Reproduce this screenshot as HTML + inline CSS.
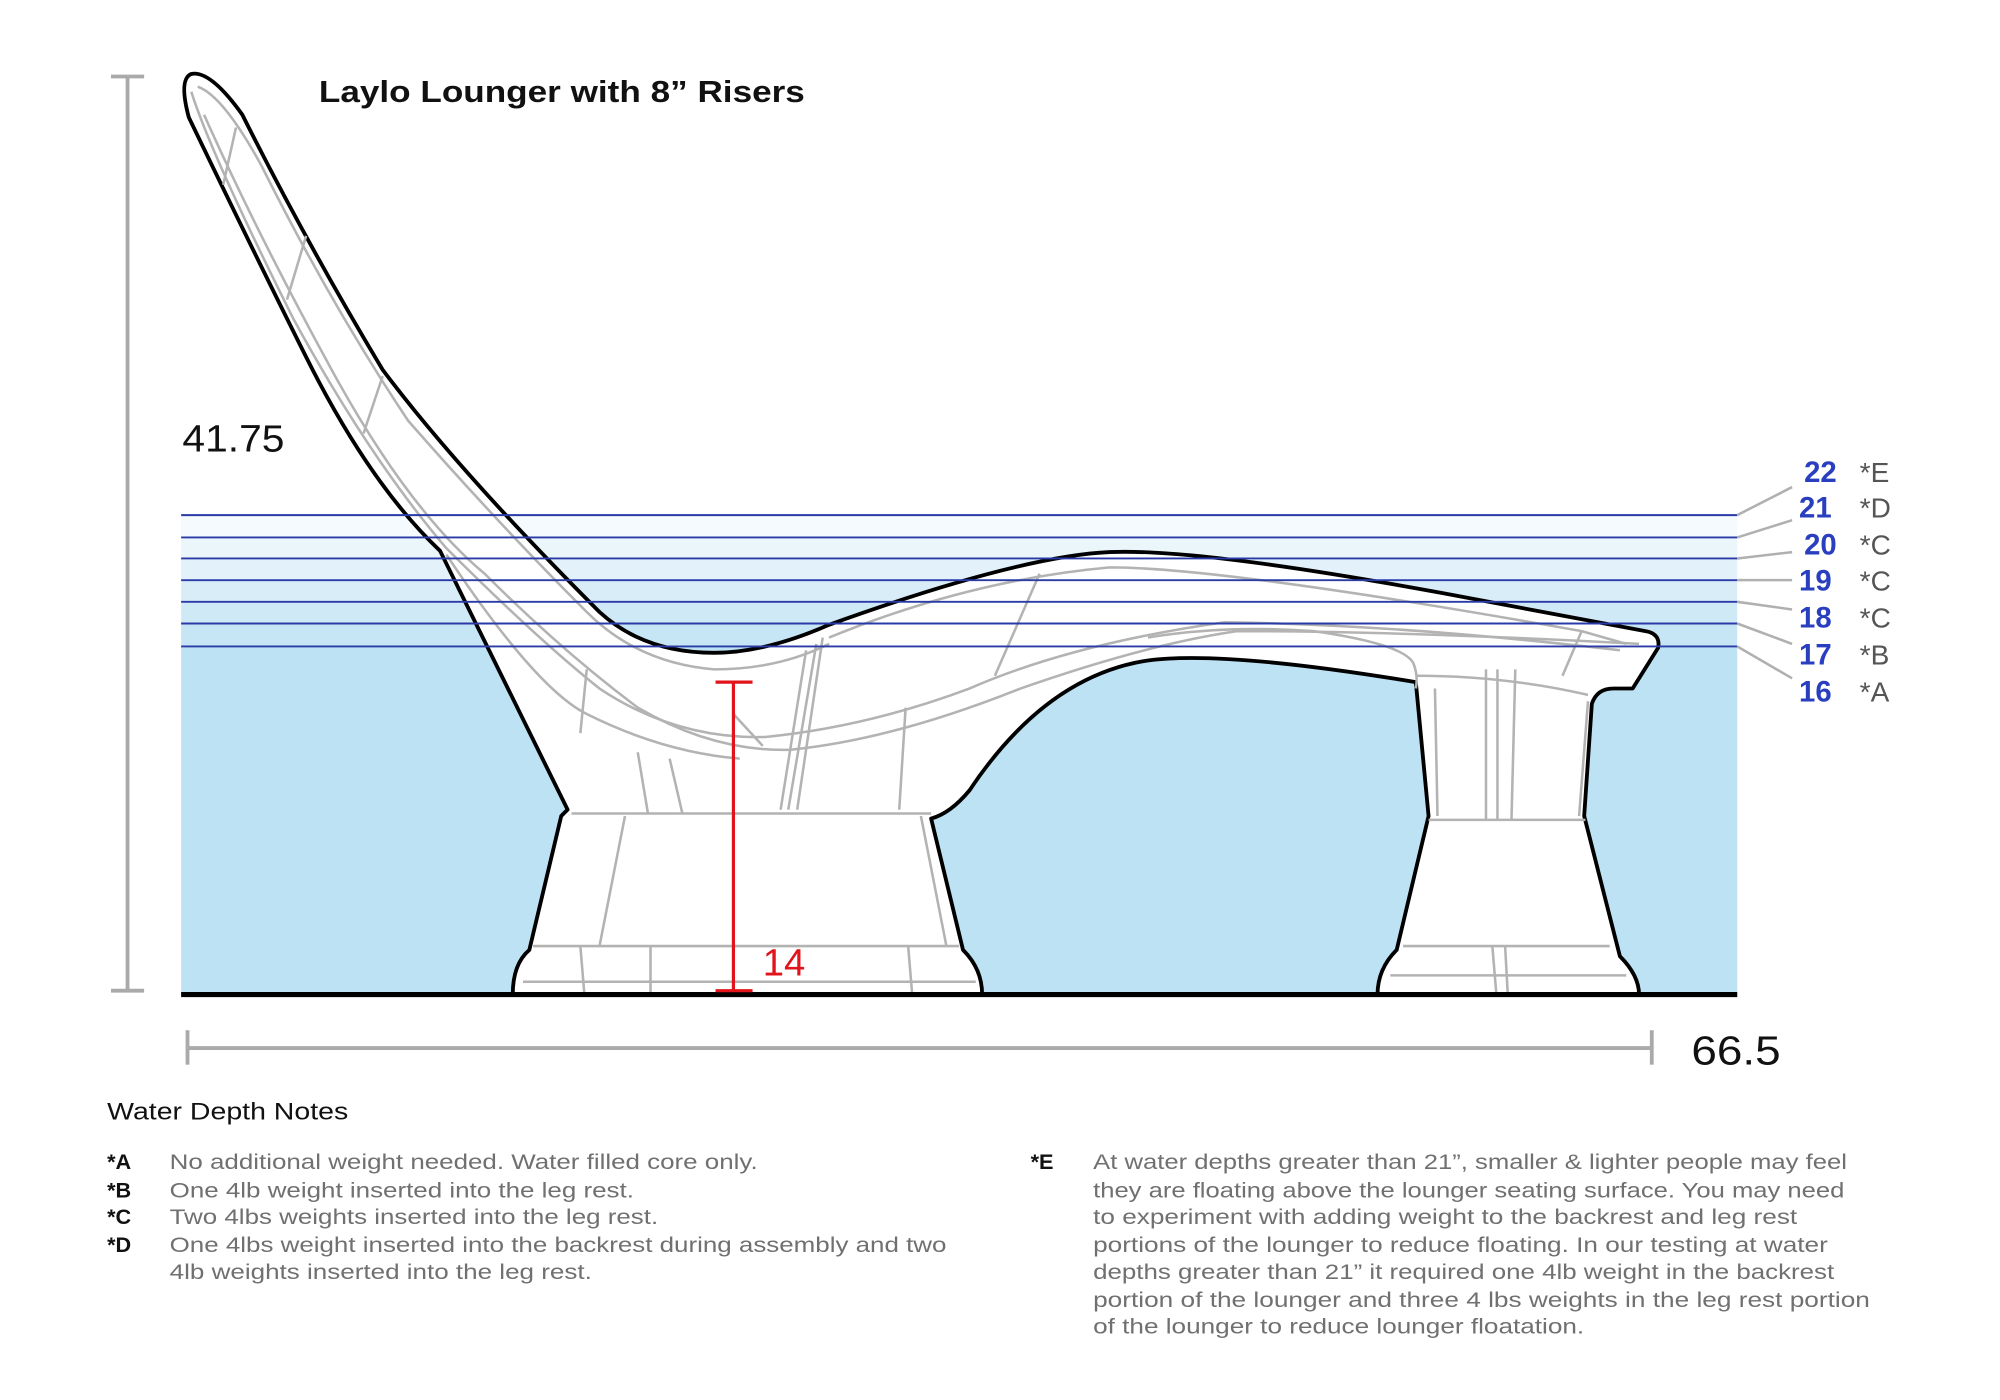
<!DOCTYPE html>
<html><head><meta charset="utf-8"><style>
html,body{margin:0;padding:0;background:#fff;}
svg{display:block;}
text{font-family:"Liberation Sans",sans-serif;}
</style></head><body>
<svg width="2000" height="1400" viewBox="0 0 1568 1098" preserveAspectRatio="none" xmlns="http://www.w3.org/2000/svg">
<rect x="142" y="404" width="1220" height="17" fill="#f4fafd"/>
<rect x="142" y="421" width="1220" height="17" fill="#ebf6fb"/>
<rect x="142" y="438" width="1220" height="17" fill="#e2f1fa"/>
<rect x="142" y="455" width="1220" height="17" fill="#d9edf8"/>
<rect x="142" y="472" width="1220" height="17" fill="#d0e9f6"/>
<rect x="142" y="489" width="1220" height="18" fill="#c7e6f5"/>
<rect x="142" y="507" width="1220" height="273" fill="#bce2f4"/>

<g stroke="#000" stroke-width="3" fill="#fff" stroke-linejoin="round">
<path d="M150 58 Q140 62 148 92 Q200 200 240 280 Q290 380 345 432 L445 635 L440 640 L415 745 Q402 756 402 780 L770 780 Q770 760 755 745 L730 642 Q745 638 760 620 Q820 530 900 518 Q960 510 1110 535 L1120 640 L1095 745 Q1080 760 1080 780 L1285 780 Q1285 765 1270 750 L1242 640 L1248 552 Q1252 540 1265 540 L1280 540 L1300 508 Q1302 497 1290 495 L1130 465 Q940 430 870 433 Q800 436 650 490 Q600 512 560 512 Q505 512 470 480 Q360 370 300 290 Q240 190 190 90 Q165 55 150 58 Z"/>
</g>
<g stroke="#b3b3b3" stroke-width="2" fill="none">
<path d="M155 68 Q175 75 205 130 Q260 240 320 330 Q390 410 460 480 Q500 520 560 525 Q610 525 650 505"/>
<path d="M150 72 Q165 120 230 250 Q290 360 350 430 Q420 500 470 540 Q530 580 600 578 Q680 570 760 540 Q840 505 960 488 Q1100 490 1270 510"/>
<path d="M160 90 Q200 180 260 290 Q320 400 380 450 Q440 510 500 555 Q560 590 620 588 Q700 580 800 540 Q900 505 970 495 Q1100 495 1285 505"/>
<path d="M350 435 Q420 540 460 560 Q520 590 580 595"/>
<path d="M650 500 Q760 455 870 445 Q960 445 1240 495 L1275 505"/>
<path d="M185 100 L175 145 M240 185 L225 235 M300 295 L285 340 M645 500 L625 635 M640 505 L618 635 M632 510 L612 635 M815 450 L780 530 M1240 495 L1225 530 M460 525 L455 575 M500 590 L508 638 M525 595 L535 638 M710 555 L705 635 M575 560 L598 585"/>
<path d="M900 500 Q960 490 1030 495 Q1100 505 1108 520 Q1112 530 1110 540"/>
<path d="M1110 530 Q1180 530 1245 545"/>
<path d="M448 638 L730 638 M418 742 L752 742 M410 770 L765 770 M490 640 L470 742 M722 640 L742 742 M455 742 L458 778 M510 742 L510 778 M712 742 L715 778"/>
<path d="M1120 643 L1243 643 M1100 742 L1262 742 M1090 765 L1275 765 M1165 525 L1165 643 M1174 525 L1174 643 M1188 525 L1185 643 M1245 550 L1238 640 M1125 540 L1127 640 M1170 742 L1173 778 M1180 742 L1182 778"/>
</g>
<line x1="142" y1="780" x2="1362" y2="780" stroke="#000" stroke-width="4"/>
<g stroke="#2a3ba8" stroke-width="1.5">
<line x1="142" y1="404" x2="1362" y2="404"/><line x1="142" y1="421.5" x2="1362" y2="421.5"/>
<line x1="142" y1="438" x2="1362" y2="438"/><line x1="142" y1="455" x2="1362" y2="455"/>
<line x1="142" y1="472" x2="1362" y2="472"/><line x1="142" y1="489" x2="1362" y2="489"/>
<line x1="142" y1="507" x2="1362" y2="507"/>
</g>
<g stroke="#b0b0b0" stroke-width="2">
<line x1="1362" y1="404" x2="1405" y2="382"/><line x1="1362" y1="421.5" x2="1405" y2="408"/>
<line x1="1362" y1="438" x2="1405" y2="433"/><line x1="1362" y1="455" x2="1405" y2="455"/>
<line x1="1362" y1="472" x2="1405" y2="478"/><line x1="1362" y1="489" x2="1405" y2="505"/>
<line x1="1362" y1="507" x2="1405" y2="532"/>
</g>
<g font-size="23" font-weight="bold" fill="#2a3fbf" text-anchor="end">
<text x="1440" y="378">22</text><text x="1436" y="406">21</text><text x="1440" y="435">20</text>
<text x="1436" y="463">19</text><text x="1436" y="492">18</text><text x="1436" y="521">17</text><text x="1436" y="550">16</text>
</g>
<g font-size="22" fill="#555">
<text x="1458" y="378">*E</text><text x="1458" y="406">*D</text><text x="1458" y="435">*C</text>
<text x="1458" y="463">*C</text><text x="1458" y="492">*C</text><text x="1458" y="521">*B</text><text x="1458" y="550">*A</text>
</g>
<g stroke="#aaa" stroke-width="3">
<line x1="100" y1="60" x2="100" y2="777"/><line x1="87" y1="60" x2="113" y2="60"/><line x1="87" y1="777" x2="113" y2="777"/>
<line x1="147" y1="822" x2="1295" y2="822"/><line x1="147" y1="808" x2="147" y2="835"/><line x1="1295" y1="808" x2="1295" y2="835"/>
</g>
<g stroke="#e0141a" stroke-width="2.5">
<line x1="575" y1="535" x2="575" y2="777"/><line x1="561" y1="535" x2="590" y2="535"/><line x1="561" y1="777" x2="590" y2="777"/>
</g>
<text x="598" y="765" font-size="30" fill="#e0141a">14</text>
<text x="143" y="354" font-size="30" fill="#111" textLength="80" lengthAdjust="spacingAndGlyphs">41.75</text>
<text x="1326" y="835" font-size="32" fill="#111" textLength="70" lengthAdjust="spacingAndGlyphs">66.5</text>
<text x="250" y="80" font-size="24" font-weight="bold" fill="#111" textLength="381" lengthAdjust="spacingAndGlyphs">Laylo Lounger with 8” Risers</text>
<text x="84" y="878" font-size="19" fill="#111" textLength="189" lengthAdjust="spacingAndGlyphs">Water Depth Notes</text>
<g font-size="17" font-weight="bold" fill="#111">
<text x="84" y="917">*A</text><text x="84" y="939">*B</text><text x="84" y="960">*C</text><text x="84" y="982">*D</text><text x="808" y="917">*E</text>
</g>
<g font-size="17" fill="#707070">
<text x="133" y="917" textLength="461" lengthAdjust="spacingAndGlyphs">No additional weight needed. Water filled core only.</text>
<text x="133" y="939" textLength="364" lengthAdjust="spacingAndGlyphs">One 4lb weight inserted into the leg rest.</text>
<text x="133" y="960" textLength="383" lengthAdjust="spacingAndGlyphs">Two 4lbs weights inserted into the leg rest.</text>
<text x="133" y="982" textLength="609" lengthAdjust="spacingAndGlyphs">One 4lbs weight inserted into the backrest during assembly and two</text>
<text x="133" y="1003" textLength="331" lengthAdjust="spacingAndGlyphs">4lb weights inserted into the leg rest.</text>
<text x="857" y="917" textLength="591" lengthAdjust="spacingAndGlyphs">At water depths greater than 21”, smaller &amp; lighter people may feel</text>
<text x="857" y="939" textLength="589" lengthAdjust="spacingAndGlyphs">they are floating above the lounger seating surface. You may need</text>
<text x="857" y="960" textLength="552" lengthAdjust="spacingAndGlyphs">to experiment with adding weight to the backrest and leg rest</text>
<text x="857" y="982" textLength="576" lengthAdjust="spacingAndGlyphs">portions of the lounger to reduce floating. In our testing at water</text>
<text x="857" y="1003" textLength="581" lengthAdjust="spacingAndGlyphs">depths greater than 21” it required one 4lb weight in the backrest</text>
<text x="857" y="1025" textLength="609" lengthAdjust="spacingAndGlyphs">portion of the lounger and three 4 lbs weights in the leg rest portion</text>
<text x="857" y="1046" textLength="385" lengthAdjust="spacingAndGlyphs">of the lounger to reduce lounger floatation.</text>
</g>
</svg>
</body></html>
